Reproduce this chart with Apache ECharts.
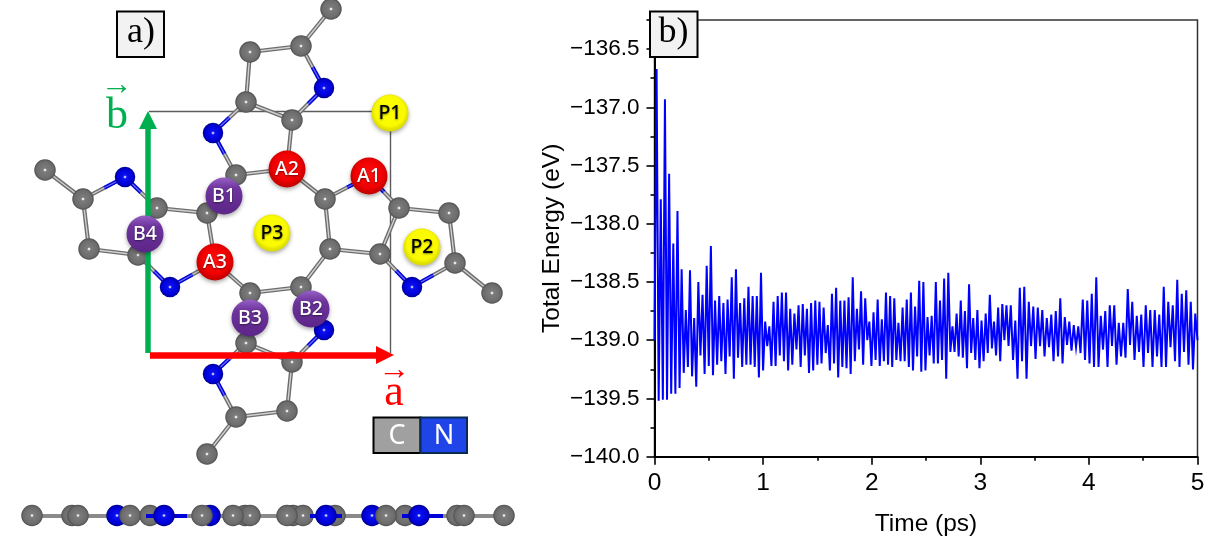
<!DOCTYPE html>
<html>
<head>
<meta charset="utf-8">
<style>html,body{margin:0;padding:0;background:#fff}#c{width:1218px;height:548px}</style>
<script src="https://cdn.jsdelivr.net/npm/echarts@6/dist/echarts.min.js"></script>
</head>
<body>
<div id="c"></div>
<script>
// ---------- panel b) total energy ----------
const energyEarly = [-139.0,-136.67,-139.52,-137.79,-139.51,-136.93,-139.51,-137.57,-139.46,-138.17,-139.46,-137.89,-139.41,
-138.39,-139.28,-138.74,-139.23,-138.40,-139.31,-138.81,-139.40,-138.50,-139.13,-138.61,-139.29,-138.36,-139.22,-138.19,-139.30,-138.66,-139.21,-138.62,-139.18,-138.68,-139.29,-138.65,-139.14,-138.46,-139.33,-138.39,-139.15,-138.68,-139.23,-138.64,-139.21,-138.54,-139.21,-138.62,-139.23,-138.62,-139.32,-138.42,-139.26,-138.84,-139.05,-138.88,-139.22,-138.67,-139.22,-138.62,-139.13,-138.59,-139.18,-138.59,-139.26,-138.73,-139.21,-138.77,-139.08,-138.70,-139.23,-138.69,-139.13,-138.73,-139.28,-138.68,-139.26,-138.66,-139.21,-138.67,-139.20,-138.72,-139.11,-138.87,-139.26];
const energyMiddle = [-138.60,-139.20,-138.55,-139.32,-138.66,-139.23,-138.66,-139.24,-138.63,-139.29,-138.46,-139.18,-138.73,-139.08,-138.58,-139.21,-138.64,-139.00,-138.84,-139.22,-138.76,-139.17,-138.65,-139.22,-138.82,-139.18,-138.59,-139.21,-138.62,-139.23,-138.64,-139.17,-138.85,-139.18,-138.72,-139.18,-138.65,-139.23,-138.59,-139.26,-138.71,-139.14,-138.49,-139.27,-138.50,-139.26,-138.80,-139.13,-138.79,-139.20,-138.50,-139.20,-138.66,-139.17,-138.47,-139.33,-138.42,-139.10,-138.88,-139.10,-138.77,-139.14,-138.66,-139.15,-138.75,-139.24,-138.52,-139.11,-138.81,-139.17,-138.74,-139.24,-138.83,-139.18,-138.77,-139.11,-138.61,-139.07,-138.84,-139.13,-138.72,-139.18,-138.69,-139.00,-138.70,-139.05];
const energyLate = [-138.70,-139.17,-138.83,-139.33,-138.55,-139.18,-138.54,-139.33,-138.67,-139.05,-138.71,-139.16,-138.72,-139.05,-138.74,-139.14,-138.81,-139.06,-138.78,-139.18,-138.75,-139.14,-138.64,-139.20,-138.80,-139.04,-138.84,-139.09,-138.87,-139.06,-138.88,-139.11,-138.65,-139.17,-138.66,-139.20,-138.60,-139.23,-138.46,-139.23,-138.79,-139.08,-138.75,-139.23,-138.70,-139.05,-138.70,-139.21,-138.85,-139.14,-138.85,-139.15,-138.56,-139.04,-138.67,-139.17,-138.79,-139.10,-138.78,-139.23,-138.70,-139.11,-138.74,-139.23,-138.74,-139.14,-138.78,-139.23,-138.54,-139.23,-138.67,-139.06,-138.70,-139.18,-138.48,-139.23,-138.60,-139.10,-138.57,-139.21,-138.67,-139.25,-138.77,-139.00];
const segmentEndTimes = [1.615, 3.26, 5];

// ---------- panel a) structure, in the diagram's own plane ----------
const carbons = [[331,9],[301,46],[250,52],[246,102],[292,120],[236,175],[287,169],[325,199],[330,249],[380,254],[399,208],[449,213],[455,263],[492,293],[301,287],[250,293],[207,213],[157,208],[83,199],[45,170],[89,249],[138,255],[215,262],[246,343],[292,362],[287,411],[236,417],[207,454]];
const nitrogens = [[324,88],[213,133],[125,177],[170,287],[412,287],[213,374],[324,330],[369,176]];
const ccBonds = [[0,1],[1,2],[2,3],[3,4],[4,6],[5,6],[6,7],[7,8],[8,9],[9,10],[10,11],[11,12],[12,13],[8,14],[14,15],[15,22],[22,16],[16,5],[16,17],[17,21],[21,20],[20,18],[18,19],[15,23],[23,24],[24,25],[25,26],[26,27]];
const cnBonds = [[1,0],[4,0],[3,1],[5,1],[17,2],[18,2],[21,3],[22,3],[12,4],[9,4],[23,5],[26,5],[24,6],[14,6],[7,7],[10,7]];
const sitesA = [['A1',369,176],['A2',287,169],['A3',215,262]];
const sitesB = [['B1',224,196],['B2',311,309],['B3',250,318],['B4',145,234]];
const sitesP = [['P1',390,113],['P2',422,247],['P3',272,233]];
const unitCell = [[149,111],[390,111],[390,353]];
const sideY = 515.5;
const sideBackC = [72,150,245,250,293,303,335,405,457];
const sideBackN = [117,210,372];
const sideFrontC = [32,78,130,202,233,287,386,464,504];
const sideFrontN = [164,326,419];
const sideBlueBars = [[146,187],[310,342],[402,443]];

const energyData = [];
[energyEarly, energyMiddle, energyLate].forEach((seg, s) => {
  const t0 = s ? segmentEndTimes[s-1] : 0, t1 = segmentEndTimes[s];
  seg.forEach((e, i) => energyData.push([t0 + (t1 - t0) * (i + (s ? 1 : 0)) / (seg.length - (s ? 0 : 1)), e]));
});

const rad = (stops, cx, cy) => ({type:'radial', x:cx===undefined?0.5:cx, y:cy===undefined?0.5:cy, r:0.5,
  colorStops: stops.map(s => ({offset:s[0], color:s[1]}))});
const cFill = rad([[0,'#ffffff'],[0.07,'#e6e6e6'],[0.17,'#7c7c7c'],[0.8,'#6c6c6c'],[1,'#4e4e4e']]);
const nFill = rad([[0,'#ffffff'],[0.07,'#b0b8ff'],[0.18,'#0a10f0'],[0.75,'#0000d8'],[1,'#00008c']]);
const aFill = rad([[0,'#ff1010'],[0.75,'#f00000'],[1,'#c80000']], 0.5, 0.45);
const bFill = {type:'linear',x:0,y:0,x2:0,y2:1,colorStops:[{offset:0,color:'#9660c4'},{offset:0.3,color:'#6d349c'},{offset:1,color:'#5c2588'}]};
const pFill = rad([[0,'#ffff00'],[0.8,'#fafa00'],[1,'#dede00']], 0.5, 0.45);

const mid = (p, q) => [(p[0]+q[0])/2, (p[1]+q[1])/2];
const grayParts = ccBonds.map(b => [carbons[b[0]], carbons[b[1]]])
  .concat(cnBonds.map(b => [carbons[b[0]], mid(carbons[b[0]], nitrogens[b[1]])]));
const blueParts = cnBonds.map(b => [mid(carbons[b[0]], nitrogens[b[1]]), nitrogens[b[1]]]);

function segs(name, parts, color, width, z) {
  return {type:'lines', name, coordinateSystem:'cartesian2d', xAxisIndex:0, yAxisIndex:0, silent:true, z,
    lineStyle:{color, width, opacity:1, cap:'butt'}, data:parts.map(p => ({coords:p}))};
}
function atoms(name, pts, size, fill, z) {
  return {type:'scatter', name, xAxisIndex:0, yAxisIndex:0, silent:true, z, symbol:'circle', symbolSize:size,
    itemStyle:{color:fill, opacity:1}, data:pts};
}
function sites(name, list, fill, textColor, z) {
  return {type:'scatter', name, xAxisIndex:0, yAxisIndex:0, silent:true, z, symbol:'circle', symbolSize:37,
    itemStyle:{color:fill, opacity:1, shadowBlur:4, shadowOffsetY:2, shadowColor:'rgba(0,0,0,0.35)'},
    label:{show:true, position:'inside', formatter:p => p.data[2], color:textColor, fontFamily:'Noto Sans', fontWeight:500, fontSize:19.5,
      textShadowColor: textColor === '#000' ? 'rgba(60,60,0,0.6)' : 'rgba(0,0,0,0.5)', textShadowBlur:2, textShadowOffsetY:1},
    data:list.map(s => [s[1], s[2], s[0]])};
}
const side = xs => xs.map(x => [x, sideY]);
const minus = v => v.toFixed(1).replace('-', '\u2212');

function box(x, y, w, h, fill, stroke) {
  return {type:'rect', z:100, shape:{x, y, width:w, height:h}, style:{fill, stroke, lineWidth:2}};
}
function txt(text, x, y, size, color, family, extra) {
  return {type:'text', z:101, x, y, style:Object.assign({text, fill:color, font:size+'px "'+family+'"', align:'center', verticalAlign:'middle'}, extra||{})};
}

const chart = echarts.init(document.getElementById('c'), null, {renderer:'canvas'});
chart.setOption({
  animation:false,
  backgroundColor:'#fff',
  grid:[
    {left:0, top:0, width:530, height:548, show:false},
    {left:654.5, right:20.5, top:20, bottom:91.3, show:true, borderColor:'#333', borderWidth:1.5, backgroundColor:'transparent'}
  ],
  xAxis:[
    {gridIndex:0, type:'value', min:0, max:530, show:false},
    {gridIndex:1, type:'value', min:0, max:5, interval:1, name:'Time (ps)', nameLocation:'middle', nameGap:55,
      nameTextStyle:{fontFamily:'Liberation Sans', fontSize:24.5, color:'#000'},
      axisLine:{show:true, onZero:false, lineStyle:{color:'#000', width:2}},
      axisTick:{show:true, inside:false, length:8, lineStyle:{color:'#000', width:1.6}},
      minorTick:{show:true, splitNumber:2, length:4, lineStyle:{color:'#000', width:1.6}},
      splitLine:{show:false}, minorSplitLine:{show:false},
      axisLabel:{fontFamily:'Liberation Sans', fontSize:24.5, color:'#000', margin:14, showMaxLabel:true, showMinLabel:true}}
  ],
  yAxis:[
    {gridIndex:0, type:'value', min:0, max:548, inverse:true, show:false},
    {gridIndex:1, type:'value', min:-140, max:-136.25, interval:0.5, name:'Total Energy (eV)', nameLocation:'middle', nameGap:90,
      nameRotate:90, nameTextStyle:{fontFamily:'Liberation Sans', fontSize:24.5, color:'#000'},
      axisLine:{show:true, onZero:false, lineStyle:{color:'#000', width:2}},
      axisTick:{show:true, inside:false, length:8, lineStyle:{color:'#000', width:1.6}},
      minorTick:{show:true, splitNumber:2, length:4, lineStyle:{color:'#000', width:1.6}},
      splitLine:{show:false}, minorSplitLine:{show:false},
      axisLabel:{fontFamily:'Liberation Sans', fontSize:22.5, color:'#000', margin:15, showMaxLabel:false, formatter:minus}}
  ],
  series:[
    {type:'line', name:'Total energy', xAxisIndex:1, yAxisIndex:1, data:energyData, showSymbol:false, symbol:'none',
      silent:true, z:5, lineStyle:{color:'#0000ff', width:2, join:'miter'}},

    segs('cell', [[unitCell[0],unitCell[1]],[unitCell[1],unitCell[2]]], '#5c5c5c', 1.4, 6),
    segs('bond gray', grayParts, '#6e6e6e', 4.2, 7),
    segs('bond blue', blueParts, '#0000d0', 4.2, 7),
    segs('bond gray core', grayParts, '#d0d0d0', 1.4, 8),
    segs('bond blue core', blueParts, '#6a70ff', 1.2, 8),
    atoms('C', carbons, 21.5, cFill, 9),
    atoms('N', nitrogens, 20.5, nFill, 9),

    segs('arrow b', [[[148,353],[148,125]]], '#00b050', 5.5, 10),
    segs('arrow a', [[[150,355],[380,355]]], '#ff0000', 6.5, 10),
    {type:'scatter', name:'arrow b head', xAxisIndex:0, yAxisIndex:0, silent:true, z:10, symbol:'triangle', symbolSize:[18,18],
      itemStyle:{color:'#00b050', opacity:1}, data:[[148,120]]},
    {type:'scatter', name:'arrow a head', xAxisIndex:0, yAxisIndex:0, silent:true, z:10, symbol:'triangle', symbolSize:[18,18], symbolRotate:-90,
      itemStyle:{color:'#ff0000', opacity:1}, data:[[385,355]]},

    sites('A', sitesA, aFill, '#fff', 11),
    sites('B', sitesB, bFill, '#fff', 11),
    sites('P', sitesP, pFill, '#000', 11),

    segs('side bond', [[[32,sideY],[504,sideY]]], '#8a8a8a', 4, 6),
    atoms('side back C', side(sideBackC), 21.5, cFill, 7),
    atoms('side back N', side(sideBackN), 21.5, nFill, 7),
    segs('side blue', sideBlueBars.map(b => [[b[0],sideY],[b[1],sideY]]), '#0000d8', 4, 8),
    atoms('side front C', side(sideFrontC), 21.5, cFill, 9),
    atoms('side front N', side(sideFrontN), 21.5, nFill, 9)
  ],
  graphic:[
    box(117, 11.5, 47, 45.5, '#f2f2f2', '#000'),
    txt('a)', 141, 33, 36, '#000', 'Liberation Serif'),
    box(650, 11.5, 47.5, 45.5, '#f2f2f2', '#000'),
    txt('b)', 673.5, 33, 36, '#000', 'Liberation Serif'),
    txt('b', 117, 116, 44, '#00b050', 'Liberation Serif'),
    txt('\u2192', 116.5, 86, 32, '#00b050', 'Liberation Serif'),
    txt('a', 394, 393, 44, '#ff0000', 'Liberation Serif'),
    txt('\u2192', 394, 371, 32, '#ff0000', 'Liberation Serif'),
    box(373.5, 417.5, 47, 35.5, '#a0a0a0', '#000'),
    box(420.5, 417.5, 46.5, 35.5, '#1f44e8', '#0a2a50'),
    txt('C', 397, 436, 27, '#fff', 'Noto Sans'),
    txt('N', 444, 436, 27, '#fff', 'Noto Sans')
  ]
});
</script>
</body>
</html>
